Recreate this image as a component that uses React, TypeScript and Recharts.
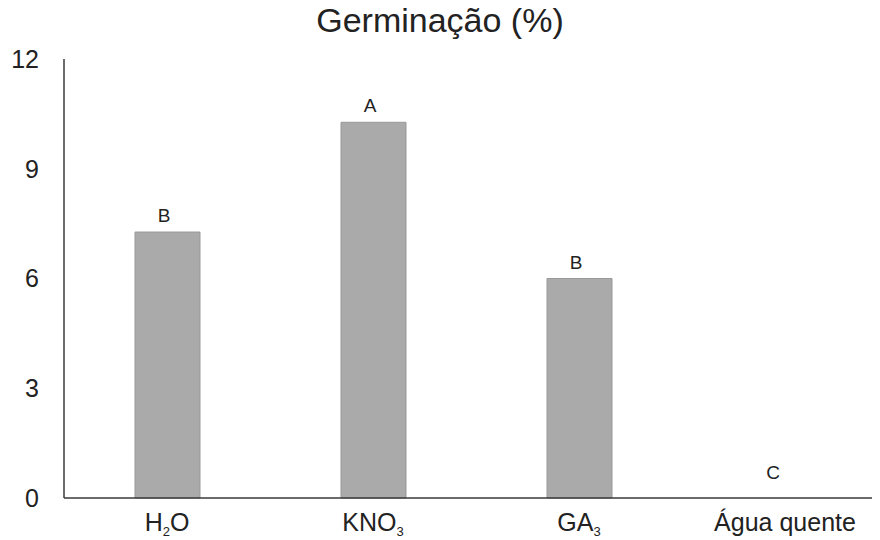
import { BarChart, Bar, XAxis, YAxis, ReferenceDot } from 'recharts';

const categories = ['H2O', 'KNO3', 'GA3', 'Água quente'];
const germination = [7.27, 10.27, 6.0, 0];
const letters = ['B', 'A', 'B', 'C'];
const yTicks = [0, 3, 6, 9, 12];

// base text + subscript + rest, for the tick labels
const tickParts: Record<string, [string, string, string]> = {
  'H2O': ['H', '2', 'O'],
  'KNO3': ['KNO', '3', ''],
  'GA3': ['GA', '3', ''],
  'Água quente': ['Água quente', '', ''],
};

const data = categories.map((name, i) => ({ name, value: germination[i] }));

const FONT = 'Arial, "Liberation Sans", sans-serif';

function CategoryTick(props: any) {
  const { x, payload } = props;
  const [base, sub, rest] = tickParts[payload.value] || [payload.value, '', ''];
  return (
    <text x={x} y={531} textAnchor="middle" fontSize={25} fill="#222" fontFamily={FONT}>
      <tspan>{base}</tspan>
      {sub && <tspan dy={5} fontSize={13}>{sub}</tspan>}
      {rest && <tspan dy={-5}>{rest}</tspan>}
    </text>
  );
}

const letterShape = (letter: string, isZero: boolean) => (p: any) => (
  <text
    x={p.cx - (isZero ? 12 : 3)}
    y={p.cy - (isZero ? 19 : 10)}
    textAnchor="middle"
    fontSize={19}
    fill="#222"
    fontFamily={FONT}
  >
    {letter}
  </text>
);

export default function App() {
  return (
    <div style={{ position: 'relative', width: 880, height: 540, marginLeft: -8, marginTop: -8, overflow: 'hidden', background: '#fff' }}>
      <div
        style={{
          position: 'absolute',
          top: 1,
          left: 0,
          width: 880,
          textAlign: 'center',
          fontFamily: FONT,
          fontSize: 34,
          color: '#222',
        }}
      >
        Germinação (%)
      </div>
      <BarChart width={900} height={540} data={data} margin={{ top: 59, right: 12, left: 0, bottom: 0 }}>
        <XAxis
          dataKey="name"
          height={42}
          axisLine={{ stroke: '#3a3a3a', strokeWidth: 1.5 }}
          tickLine={false}
          tick={<CategoryTick />}
          interval={0}
        />
        <YAxis
          width={64}
          domain={[0, 12]}
          ticks={yTicks}
          axisLine={{ stroke: '#3a3a3a', strokeWidth: 1.5 }}
          tickLine={false}
          tickMargin={19}
          tick={{ fontSize: 25, fill: '#222', fontFamily: FONT }}
        />
        <Bar dataKey="value" fill="#aaaaaa" stroke="#999999" barSize={65} isAnimationActive={false} />
        {data.map((d, i) => (
          <ReferenceDot
            key={d.name}
            x={d.name}
            y={d.value}
            r={0}
            ifOverflow="visible"
            shape={letterShape(letters[i], d.value === 0)}
          />
        ))}
      </BarChart>
    </div>
  );
}
